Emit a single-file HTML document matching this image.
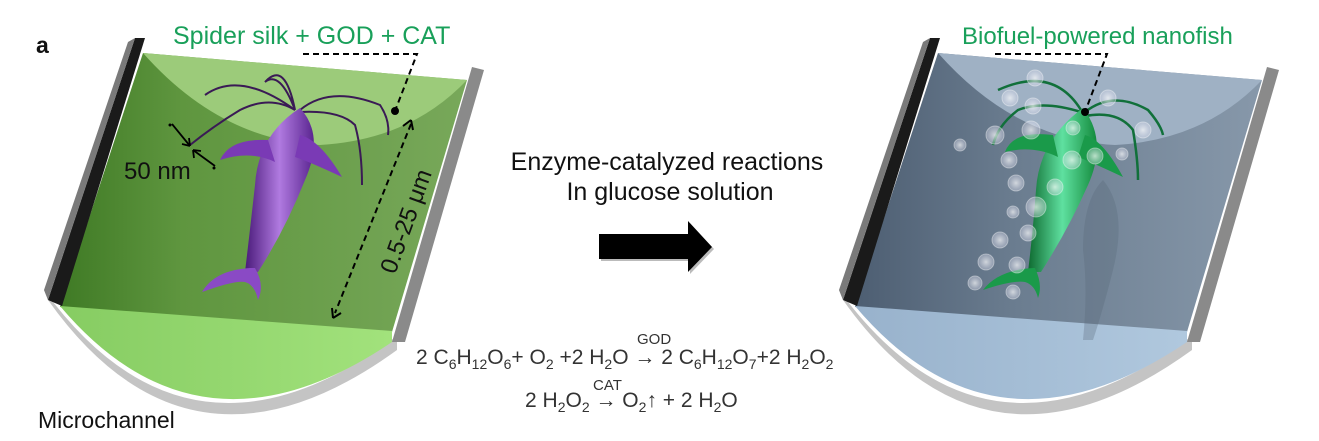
<!DOCTYPE html>
<html><head><meta charset="utf-8"><style>
html,body{margin:0;padding:0;background:#fff;}
svg{display:block;font-family:"Liberation Sans",Arial,sans-serif;}
</style></head><body>
<svg width="1319" height="441" viewBox="0 0 1319 441" xmlns="http://www.w3.org/2000/svg">
<defs>
<linearGradient id="gBack" x1="0" x2="1" y1="0" y2="0">
<stop offset="0" stop-color="#3f7a25"/><stop offset="0.3" stop-color="#5f963f"/><stop offset="1" stop-color="#78a85a"/></linearGradient>
<linearGradient id="gFloor" x1="0" x2="1"><stop offset="0" stop-color="#86cc62"/><stop offset="1" stop-color="#a2e27c"/></linearGradient>
<linearGradient id="bBack" x1="0" x2="1"><stop offset="0" stop-color="#4d5e72"/><stop offset="0.4" stop-color="#6b7d90"/><stop offset="1" stop-color="#8798aa"/></linearGradient>
<linearGradient id="bFloor" x1="0" x2="1"><stop offset="0" stop-color="#98b2cc"/><stop offset="1" stop-color="#b0c8de"/></linearGradient>
<linearGradient id="purp" x1="0" x2="1"><stop offset="0" stop-color="#4a1a7a"/><stop offset="0.5" stop-color="#b07ae0"/><stop offset="1" stop-color="#5a2590"/></linearGradient>
<linearGradient id="grn" x1="0" x2="1"><stop offset="0" stop-color="#0e6a30"/><stop offset="0.5" stop-color="#5fe0a0"/><stop offset="1" stop-color="#138a3c"/></linearGradient>
<radialGradient id="bub"><stop offset="0" stop-color="#fff" stop-opacity="0.7"/><stop offset="1" stop-color="#dde" stop-opacity="0.35"/></radialGradient>
</defs>

<text x="36" y="53" font-size="23" font-weight="bold" fill="#111">a</text>

<!-- LEFT CHANNEL -->
<g>
<path d="M44,290 Q190,490 397,336 L397,350 Q190,500 48,300 Z" fill="#c4c4c4"/>
<path d="M143,53 L467,80 L392,332 L60,307 Z" fill="url(#gBack)"/>
<path d="M60,306 L392,331 L392,342 Q200,472 60,306 Z" fill="url(#gFloor)"/>
<path d="M143,53 Q220,140 320,145 Q410,140 467,80 Z" fill="#9ccb7a"/>
<path d="M135,38 L145,38 L62,306 L48,300 Z" fill="#1a1a1a"/>
<path d="M128,42 L135,38 L48,300 L44,290 Z" fill="#7a7a7a"/>
<path d="M472,67 L484,70 L405,342 L392,342 Z" fill="#8a8a8a"/>
<g fill="none" stroke="#3a1a55" stroke-width="2">
<path d="M295,110 Q270,95 240,110 Q215,125 190,145"/>
<path d="M295,110 Q240,70 205,95"/>
<path d="M295,110 Q280,70 265,82 Q285,60 295,110"/>
<path d="M300,110 Q330,85 380,105 Q390,120 388,135"/>
<path d="M300,112 Q340,110 355,125 Q362,150 362,185"/>
</g>
<path d="M300,108 Q325,135 305,180 Q285,230 258,272 L245,272 Q250,230 255,185 Q258,135 300,108 Z" fill="url(#purp)"/>
<path d="M268,140 Q230,138 220,160 Q250,150 275,162 Z" fill="#7a3ab5"/>
<path d="M300,135 Q320,140 342,177 Q310,162 295,157 Z" fill="#7a3ab5"/>
<path d="M250,268 Q215,270 202,292 Q235,280 245,282 Q255,285 258,300 Q265,285 255,268 Z" fill="#8a4ac5"/>
<g stroke="#000" stroke-width="2" stroke-dasharray="6,4" fill="none">
<path d="M303,54 L417,54 L395,111"/>
<path d="M411,124 L335,313"/>
</g>
<circle cx="395" cy="111" r="4" fill="#000"/>
<path d="M411,120 l-8,6 M411,120 l2,10" stroke="#000" stroke-width="2"/>
<path d="M333,318 l-1,-10 M333,318 l8,-5" stroke="#000" stroke-width="2"/>
<path d="M172,124 L190,146 M215,166 L193,150" stroke="#000" stroke-width="1.8"/>
<path d="M190,146 l-8,-2 M190,146 l-1,-8 M193,150 l8,1 M193,150 l1,8" stroke="#000" stroke-width="1.8"/>
<circle cx="170" cy="125" r="1.5" fill="#000"/><circle cx="214" cy="168" r="1.5" fill="#000"/>
<text x="124" y="179" font-size="24" fill="#111">50 nm</text>
<text font-size="24" fill="#111" transform="translate(395,275) rotate(-70)">0.5-25 μm</text>
<text x="173" y="44" font-size="25" fill="#19a05a">Spider silk + GOD + CAT</text>
<text x="38" y="428" font-size="23" fill="#111">Microchannel</text>
</g>

<!-- MIDDLE -->
<text x="667" y="170" font-size="25" fill="#111" text-anchor="middle">Enzyme-catalyzed reactions</text>
<text x="670" y="200" font-size="25" fill="#111" text-anchor="middle">In glucose solution</text>
<path d="M601,236 L690,236 L690,223 L714,249 L690,274 L690,261 L601,261 Z" fill="#777" opacity="0.5"/>
<path d="M599,234 L688,234 L688,221 L712,247 L688,272 L688,259 L599,259 Z" fill="#000"/>
<g font-size="21" fill="#333">
<text x="416" y="364">2 C<tspan font-size="14" dy="5">6</tspan><tspan dy="-5">H</tspan><tspan font-size="14" dy="5">12</tspan><tspan dy="-5">O</tspan><tspan font-size="14" dy="5">6</tspan><tspan dy="-5">+ O</tspan><tspan font-size="14" dy="5">2</tspan><tspan dy="-5"> +2 H</tspan><tspan font-size="14" dy="5">2</tspan><tspan dy="-5">O → 2 C</tspan><tspan font-size="14" dy="5">6</tspan><tspan dy="-5">H</tspan><tspan font-size="14" dy="5">12</tspan><tspan dy="-5">O</tspan><tspan font-size="14" dy="5">7</tspan><tspan dy="-5">+2 H</tspan><tspan font-size="14" dy="5">2</tspan><tspan dy="-5">O</tspan><tspan font-size="14" dy="5">2</tspan></text>
<text x="637" y="344" font-size="15">GOD</text>
<text x="525" y="407">2 H<tspan font-size="14" dy="5">2</tspan><tspan dy="-5">O</tspan><tspan font-size="14" dy="5">2</tspan><tspan dy="-5"> → O</tspan><tspan font-size="14" dy="5">2</tspan><tspan dy="-5">↑ + 2 H</tspan><tspan font-size="14" dy="5">2</tspan><tspan dy="-5">O</tspan></text>
<text x="593" y="390" font-size="15">CAT</text>
</g>

<!-- RIGHT CHANNEL -->
<g transform="translate(795,0)">
<path d="M44,290 Q190,490 397,336 L397,350 Q190,500 48,300 Z" fill="#c4c4c4"/>
<path d="M143,53 L467,80 L392,332 L60,307 Z" fill="url(#bBack)"/>
<path d="M60,306 L392,331 L392,342 Q200,472 60,306 Z" fill="url(#bFloor)"/>
<path d="M143,53 Q220,140 320,145 Q410,140 467,80 Z" fill="#9fb1c4"/>
<path d="M135,38 L145,38 L62,306 L48,300 Z" fill="#1a1a1a"/>
<path d="M128,42 L135,38 L48,300 L44,290 Z" fill="#7a7a7a"/>
<path d="M472,67 L484,70 L405,342 L392,342 Z" fill="#8a8a8a"/>
<g transform="translate(-22,0)">
<path d="M330,180 Q355,210 340,270 Q330,310 320,340 L310,340 Q315,290 310,250 Q310,200 330,180 Z" fill="#556677" opacity="0.3"/>
<g fill="none" stroke="#11703a" stroke-width="2.5">
<path d="M308,110 Q280,65 225,90"/>
<path d="M308,112 Q270,100 245,110 Q225,125 220,145"/>
<path d="M312,112 Q340,90 375,110 Q388,125 390,135"/>
<path d="M312,116 Q345,110 360,130 Q365,160 365,180"/>
</g>
<path d="M310,108 Q335,140 315,185 Q295,230 268,272 L255,272 Q260,230 263,190 Q266,140 310,108 Z" fill="url(#grn)"/>
<path d="M280,135 Q240,130 232,152 Q260,145 285,157 Z" fill="#1a9a4a"/>
<path d="M312,135 Q330,140 350,177 Q318,162 305,157 Z" fill="#1a9a4a"/>
<path d="M260,268 Q225,270 210,290 Q240,280 252,282 Q262,285 265,298 Q270,285 262,268 Z" fill="#1a9a4a"/>
<g fill="url(#bub)" stroke="#fff" stroke-opacity="0.4">
<circle cx="262" cy="78" r="8"/><circle cx="237" cy="98" r="8"/><circle cx="260" cy="106" r="8"/>
<circle cx="335" cy="98" r="8"/><circle cx="370" cy="130" r="8"/><circle cx="187" cy="145" r="6"/>
<circle cx="222" cy="135" r="9"/><circle cx="258" cy="130" r="9"/><circle cx="300" cy="128" r="7"/>
<circle cx="236" cy="160" r="8"/><circle cx="299" cy="160" r="9"/><circle cx="322" cy="156" r="8"/>
<circle cx="243" cy="183" r="8"/><circle cx="282" cy="187" r="8"/><circle cx="263" cy="207" r="10"/>
<circle cx="240" cy="212" r="6"/><circle cx="255" cy="233" r="8"/><circle cx="227" cy="240" r="8"/>
<circle cx="213" cy="262" r="8"/><circle cx="244" cy="265" r="8"/><circle cx="202" cy="283" r="7"/>
<circle cx="240" cy="292" r="7"/><circle cx="349" cy="154" r="6"/>
</g>
</g>
<g stroke="#000" stroke-width="2" stroke-dasharray="6,4" fill="none">
<path d="M200,54 L312,54 L290,112"/>
</g>
<circle cx="290" cy="112" r="4" fill="#000"/>
<text x="167" y="44" font-size="24" fill="#19a05a">Biofuel-powered nanofish</text>
</g>
</svg>
</body></html>
